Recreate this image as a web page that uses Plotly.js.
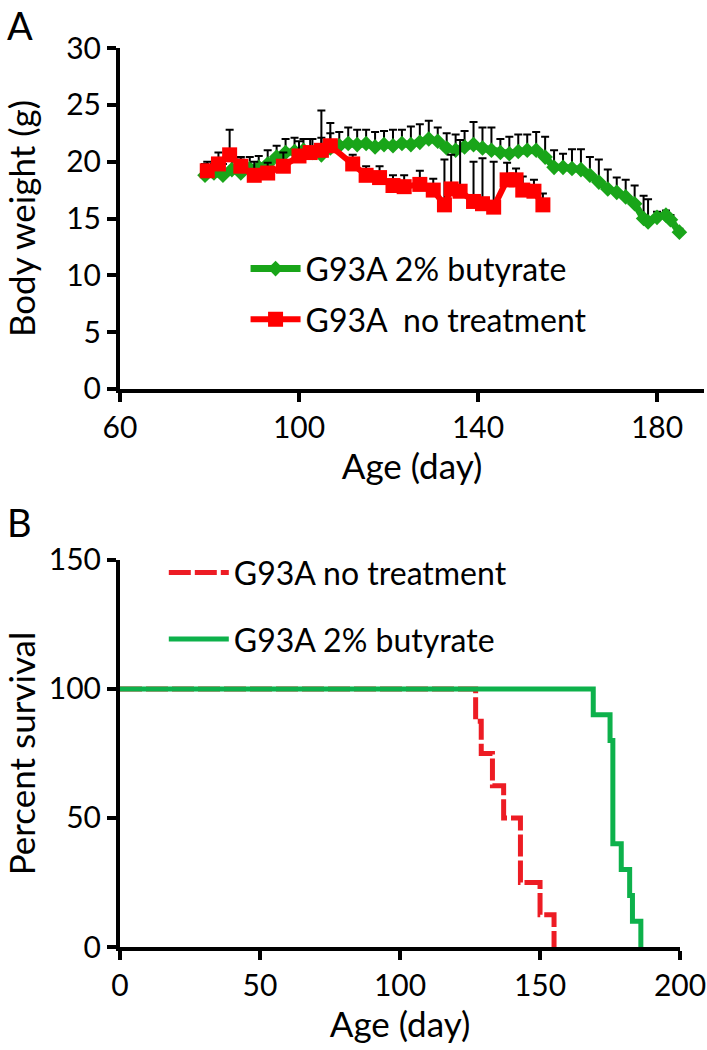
<!DOCTYPE html>
<html>
<head>
<meta charset="utf-8">
<script src="https://cdn.plot.ly/plotly-3.0.1.min.js"></script>
<style>
  body { margin: 0; background: #fff; }
  #chart { width: 707px; height: 1050px; }
</style>
</head>
<body>
<div id="chart"></div>
<script>
// panel A - body weight, mean with upward SD bar
var dayButyrate = [79, 81, 83, 85, 87, 89, 91, 93, 95, 97, 99, 101, 103, 105, 107, 109, 111, 113, 115, 117,
  119, 121, 123, 125, 127, 129, 131, 133, 135, 137, 139, 141, 143, 145, 147, 149, 151, 153, 155, 157,
  159, 161, 163, 165, 167, 169, 171, 173, 175, 177, 178, 180, 182, 183, 185];
var weightButyrate = [18.8, 19.0, 18.8, 19.3, 19.0, 19.4, 19.5, 19.8, 20.4, 20.8, 20.9, 21.0, 20.8, 20.6, 21.2, 21.4, 21.6, 21.5, 21.6, 21.3,
  21.5, 21.4, 21.6, 21.5, 21.7, 22.0, 21.8, 21.2, 21.0, 21.3, 21.5, 21.2, 21.0, 20.8, 20.7, 20.9, 21.0, 21.0, 20.4, 19.5,
  19.5, 19.4, 19.3, 18.8, 18.2, 17.6, 17.3, 16.9, 16.3, 15.0, 14.7, 15.1, 15.3, 14.9, 13.8];
var errButyrate = [1.0, 0.8, 1.0, 1.2, 1.2, 1.0, 1.0, 1.2, 1.0, 1.2, 1.2, 1.0, 1.2, 1.5, 1.3, 1.2, 1.4, 1.3, 1.2, 1.3,
  1.2, 1.4, 1.2, 1.6, 1.6, 1.6, 1.2, 1.3, 1.4, 1.4, 2.0, 1.8, 2.0, 1.2, 1.5, 1.5, 1.4, 1.6, 1.8, 1.5,
  1.2, 1.7, 1.8, 1.6, 2.0, 1.7, 1.3, 1.5, 1.6, 2.0, 2.0, 0.5, 0.4, 0.4, 0.3];

var dayControl = [79.5, 82, 84.5, 87, 90, 93, 96.5, 100, 102.5, 105, 107, 112, 115, 118, 121, 123.5, 127, 130,
  132.5, 134, 136, 139, 141, 143.5, 146.5, 148.5, 150, 152.5, 154.5];
var weightControl = [19.2, 19.8, 20.6, 19.6, 18.8, 19.0, 19.6, 20.5, 20.8, 21.0, 21.4, 19.8, 18.8, 18.6, 17.9, 17.8, 18.0, 17.5,
  16.2, 17.6, 17.4, 16.5, 16.3, 16.0, 18.4, 18.4, 17.5, 17.4, 16.2];
var errControl = [0.8, 1.0, 2.2, 0.8, 1.2, 0.9, 1.2, 1.3, 1.2, 3.5, 2.0, 0.8, 0.8, 1.0, 0.9, 1.0, 1.2, 1.0,
  4.0, 3.0, 4.5, 3.5, 4.0, 4.0, 1.5, 1.0, 1.2, 1.0, 1.0];

// panel B - Kaplan-Meier survival
var survDayControl = [0, 127, 129, 133, 137, 143, 150, 155];
var survControl = [100, 87.5, 75, 62.5, 50, 25, 12.5, 0];
var survDayButyrate = [0, 169, 175, 176, 179, 182, 183, 186];
var survButyrate = [100, 90, 80, 40, 30, 20, 10, 0];

var FONT = "Lato, 'Open Sans', sans-serif";

function zeros(n) {
  var z = [];
  for (var i = 0; i < n; i++) z.push(0);
  return z;
}

var traceA1 = {
  x: dayButyrate, y: weightButyrate, name: "G93A 2% butyrate",
  type: "scatter", mode: "lines+markers", xaxis: "x", yaxis: "y",
  legend: "legend", legendgroup: "a1",
  line: {color: "#19a519", width: 7},
  marker: {symbol: "diamond", size: 12, color: "#19a519"},
  error_y: {type: "data", symmetric: false, array: errButyrate, arrayminus: zeros(errButyrate.length),
    color: "#000", thickness: 2, width: 4}
};
var traceA2 = {
  x: dayControl, y: weightControl, name: "G93A  no treatment",
  type: "scatter", mode: "lines+markers", xaxis: "x", yaxis: "y",
  legend: "legend", legendgroup: "a2",
  line: {color: "#ff0000", width: 6},
  marker: {symbol: "square", size: 15, color: "#ff0000"},
  error_y: {type: "data", symmetric: false, array: errControl, arrayminus: zeros(errControl.length),
    color: "#000", thickness: 2, width: 4}
};
var traceB1 = {
  x: survDayControl, y: survControl, name: "G93A no treatment",
  type: "scatter", mode: "lines", xaxis: "x2", yaxis: "y2",
  legend: "legend2", legendgroup: "b1",
  line: {color: "#ed1c24", width: 5, shape: "hv", dash: "22px,4px"}
};
var traceB2 = {
  x: survDayButyrate, y: survButyrate, name: "G93A 2% butyrate",
  type: "scatter", mode: "lines", xaxis: "x2", yaxis: "y2",
  legend: "legend2", legendgroup: "b2",
  line: {color: "#0db14b", width: 5, shape: "hv"}
};

var axisStyle = {
  showline: true, linecolor: "#000", linewidth: 4,
  ticks: "outside", ticklen: 9, tickwidth: 4, tickcolor: "#000",
  showgrid: false, zeroline: false,
  tickfont: {family: FONT, size: 30, color: "#000"}
};

function ax(extra) {
  return Object.assign({}, axisStyle, extra);
}

var titleFont = {family: FONT, size: 35, color: "#000"};

var layout = {
  width: 707, height: 1050,
  margin: {l: 120, r: 3, t: 48, b: 103},
  paper_bgcolor: "#fff", plot_bgcolor: "#fff",
  font: {family: FONT, color: "#000"},
  xaxis: ax({domain: [0, 1], range: [60, 190.5], tickvals: [60, 100, 140, 180], anchor: "y",
    title: {text: "Age (day)", font: titleFont, standoff: 4}}),
  yaxis: ax({domain: [0.6207, 1], range: [0, 30], dtick: 5, anchor: "x",
    title: {text: "Body weight (g)", font: titleFont, standoff: 24}}),
  xaxis2: ax({domain: [0, 0.959], range: [0, 200], dtick: 50, anchor: "y2",
    title: {text: "Age (day)", font: titleFont, standoff: 0}}),
  yaxis2: ax({domain: [0, 0.4305], range: [0, 150], dtick: 50, anchor: "x2",
    title: {text: "Percent survival", font: titleFont, standoff: 5}}),
  showlegend: true,
  legend: {x: 0.215, y: 0.785, xanchor: "left", yanchor: "top", bgcolor: "rgba(0,0,0,0)",
    font: {family: FONT, size: 32, color: "#000"}, itemwidth: 50, tracegroupgap: 6,
    traceorder: "grouped"},
  legend2: {x: 0.075, y: 0.447, xanchor: "left", yanchor: "top", bgcolor: "rgba(0,0,0,0)",
    font: {family: FONT, size: 32, color: "#000"}, itemwidth: 60, tracegroupgap: 22,
    traceorder: "grouped"},
  annotations: [
    {text: "A", xref: "paper", yref: "paper", x: -0.197, y: 1.0534, xanchor: "left", yanchor: "top",
      showarrow: false, font: {family: FONT, size: 38}},
    {text: "B", xref: "paper", yref: "paper", x: -0.197, y: 0.4727, xanchor: "left", yanchor: "middle",
      showarrow: false, font: {family: FONT, size: 38}}
  ]
};

Plotly.newPlot("chart", [traceA1, traceA2, traceB1, traceB2], layout, {displayModeBar: false});
</script>
</body>
</html>
